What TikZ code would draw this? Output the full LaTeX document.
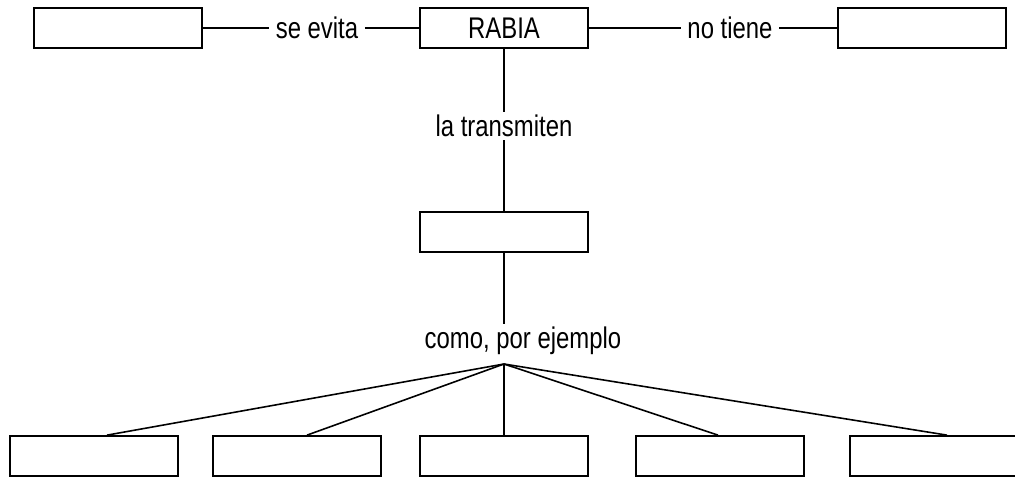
\documentclass[tikz,border=0pt]{standalone}
\usepackage{fontspec}
\setmainfont{Liberation Sans}[FakeStretch=0.8]
\usetikzlibrary{calc, positioning}

\begin{document}
\begin{tikzpicture}[
	x=0.02cm, y=-0.02cm,
	caja/.style={draw, line width=1pt, minimum width=3.36cm, minimum height=0.8cm, inner sep=0pt},
	etiqueta/.style={inner xsep=0.12cm, inner ysep=0.05cm},
	every node/.style={font=\fontsize{17}{20}\selectfont},
	line width=0.9pt,
	]
	\useasboundingbox (0,0) rectangle (1015,478);
	
	% Cajas
	\node[caja] (Rabia) at (504,28) {RABIA};
	\node[caja] (Evita) at (118,28) {};
	\node[caja] (NoTiene) at (922,28) {};
	\node[caja] (Transmisor) at (504,232) {};
	\foreach \x [count=\i] in {94,297,504,720,934}
		\node[caja] (Ejemplo\i) at (\x,456) {};
	
	% Etiquetas
	\node[etiqueta] (SeEvita) at (317,28) {se evita};
	\node[etiqueta] (NoTieneTxt) at (730,28) {no tiene};
	\node[etiqueta] (Transmiten) at (504,126) {la transmiten};
	\node[etiqueta] (PorEjemplo) at (523,341) {como, por ejemplo};
	\coordinate (Abanico) at (504,364);
	
	% Conexiones
	\draw (Evita) -- (SeEvita) -- (Rabia) -- (NoTieneTxt) -- (NoTiene);
	\draw (Rabia) -- (Transmiten) -- (Transmisor);
	\draw (Transmisor) -- (Transmisor.south |- PorEjemplo.north);
	\foreach \n/\d in {1/13, 2/10, 3/0, 4/-2, 5/13}
		\draw (Abanico) -- ($(Ejemplo\n.north)+(\d,0)$);
	
\end{tikzpicture}
\end{document}
